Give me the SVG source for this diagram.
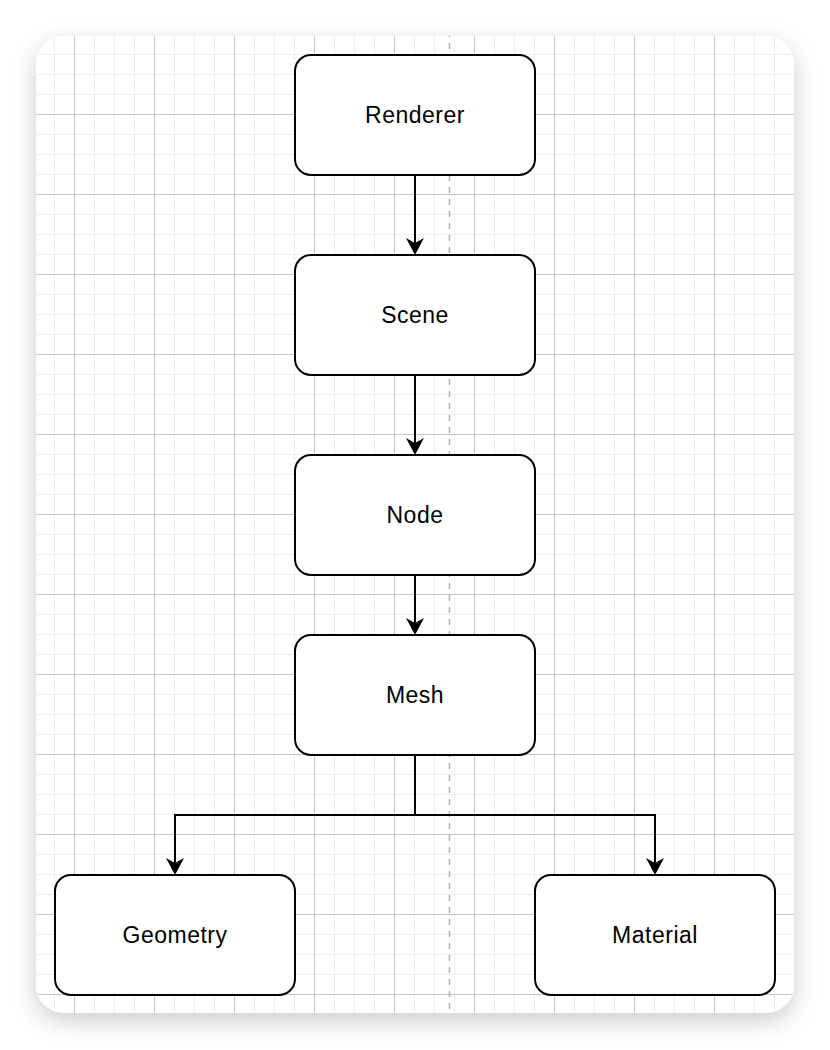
<svg xmlns="http://www.w3.org/2000/svg" width="830" height="1050" viewBox="0 0 830 1050">
  <defs>
    <filter id="shadow" x="-15%" y="-15%" width="130%" height="130%">
      <feDropShadow dx="0" dy="8" stdDeviation="12" flood-color="#000" flood-opacity="0.2"/>
    </filter>
    <pattern id="grid" patternUnits="userSpaceOnUse" x="-6" y="34" width="80" height="80">
      <rect x="20" y="0" width="1" height="80" fill="#eeeeee"/>
      <rect x="40" y="0" width="1" height="80" fill="#eeeeee"/>
      <rect x="60" y="0" width="1" height="80" fill="#eeeeee"/>
      <rect x="0" y="20" width="80" height="1" fill="#eeeeee"/>
      <rect x="0" y="40" width="80" height="1" fill="#eeeeee"/>
      <rect x="0" y="60" width="80" height="1" fill="#eeeeee"/>
      <rect x="0" y="0" width="1" height="80" fill="#c6c6c6"/>
      <rect x="0" y="0" width="80" height="1" fill="#c6c6c6"/>
    </pattern>
    <clipPath id="canvasClip">
      <rect x="36" y="36" width="758" height="977" rx="28" ry="28"/>
    </clipPath>
    <marker id="arrow" markerUnits="userSpaceOnUse" viewBox="0 0 18 18" markerWidth="18" markerHeight="18" refX="10" refY="9" orient="auto">
      <path d="M0,0 L17,9 L0,18 L5,9 Z" fill="#000"/>
    </marker>
    <style>
      .box { fill: #ffffff; stroke: #000000; stroke-width: 2; }
      .label { font-family: "Liberation Sans", Arial, sans-serif; font-size: 23px; letter-spacing: 0.5px; fill: #000000; text-anchor: middle; }
      .edge { fill: none; stroke: #000000; stroke-width: 2; marker-end: url(#arrow); }
    </style>
  </defs>

  <rect width="830" height="1050" fill="#ffffff"/>

  <g id="canvas">
    <rect x="36" y="36" width="758" height="977" rx="28" ry="28" fill="#ffffff" filter="url(#shadow)"/>
    <rect x="36" y="36" width="758" height="977" fill="url(#grid)" clip-path="url(#canvasClip)"/>
    <line x1="449.5" y1="36" x2="449.5" y2="1013" stroke="#b3b3b3" stroke-width="1.6" stroke-dasharray="6 6" stroke-dashoffset="5"/>
  </g>

  <g id="connectors">
    <path class="edge" d="M415,175 L415,248"/>
    <path class="edge" d="M415,375 L415,448"/>
    <path class="edge" d="M415,575 L415,628"/>
    <path class="edge" d="M415,755 L415,815 L175,815 L175,868"/>
    <path class="edge" d="M415,755 L415,815 L655,815 L655,868"/>
  </g>

  <g id="node-renderer">
    <rect class="box" x="295" y="55" width="240" height="120" rx="16" ry="16"/>
    <text class="label" x="415" y="123">Renderer</text>
  </g>
  <g id="node-scene">
    <rect class="box" x="295" y="255" width="240" height="120" rx="16" ry="16"/>
    <text class="label" x="415" y="323">Scene</text>
  </g>
  <g id="node-node">
    <rect class="box" x="295" y="455" width="240" height="120" rx="16" ry="16"/>
    <text class="label" x="415" y="523">Node</text>
  </g>
  <g id="node-mesh">
    <rect class="box" x="295" y="635" width="240" height="120" rx="16" ry="16"/>
    <text class="label" x="415" y="703">Mesh</text>
  </g>
  <g id="node-geometry">
    <rect class="box" x="55" y="875" width="240" height="120" rx="16" ry="16"/>
    <text class="label" x="175" y="943">Geometry</text>
  </g>
  <g id="node-material">
    <rect class="box" x="535" y="875" width="240" height="120" rx="16" ry="16"/>
    <text class="label" x="655" y="943">Material</text>
  </g>
</svg>
